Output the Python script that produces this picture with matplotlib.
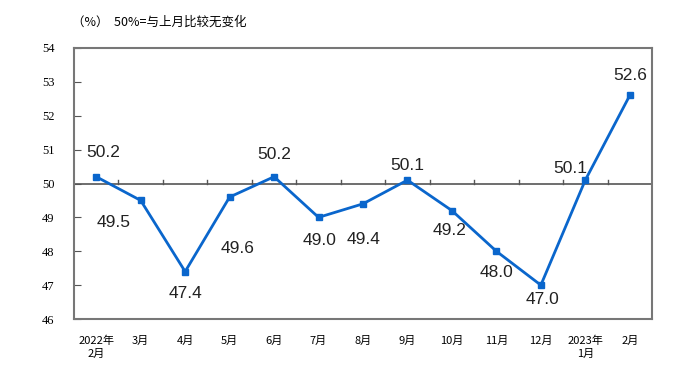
import matplotlib.pyplot as plt

plt.rcParams['font.family'] = ['Noto Sans CJK SC', 'DejaVu Sans']

# PMI values, Feb 2022 - Feb 2023
months = ['2022年\n2月', '3月', '4月', '5月', '6月', '7月', '8月', '9月',
          '10月', '11月', '12月', '2023年\n1月', '2月']
values = [50.2, 49.5, 47.4, 49.6, 50.2, 49.0, 49.4, 50.1, 49.2, 48.0, 47.0, 50.1, 52.6]
# label centre offsets in pixels (dx, dy), dy positive = up
offsets = [(7, 24), (-27, -22), (0, -22), (8, -51), (0, 22), (1, -23),
           (1, -36), (0, 15), (-2, -20), (0, -21), (2, -14), (-15, 12), (0, 20)]

blue = '#0a66cc'
x = list(range(len(values)))

fig = plt.figure(figsize=(6.99, 3.79), dpi=100)
ax = fig.add_axes([74 / 699, 1 - 319 / 379, 578 / 699, 271 / 379])

ax.axhline(50, color='#555555', lw=1.2, zorder=1)
for b in range(1, len(values)):
    ax.plot([b - 0.5, b - 0.5], [50, 50.1], color='#555555', lw=1, zorder=1)

ax.plot(x, values, color=blue, lw=2, marker='s', markersize=5, zorder=3)

for xi, v, (dx, dy) in zip(x, values, offsets):
    ax.annotate(f'{v:.1f}', (xi, v), xytext=(dx * 0.72, dy * 0.72), textcoords='offset points',
                ha='center', va='center', fontsize=12.5, color='#222222',
                family=['Liberation Sans'])

ax.set_xlim(-0.5, len(values) - 0.5)
ax.set_ylim(46, 54)
ax.set_yticks(range(46, 55))
ax.set_yticklabels([str(t) for t in range(46, 55)], fontsize=9, family=['Liberation Serif'])
ax.tick_params(axis='y', direction='in', length=5, color='#555555', pad=14)
ax.set_xticks(x)
ax.set_xticklabels(months, fontsize=8)
ax.tick_params(axis='x', length=0, pad=12)
for lbl in ax.get_xticklabels():
    lbl.set_linespacing(1.3)
    lbl.set_verticalalignment('top')

for s in ax.spines.values():
    s.set_color('#777777')
    s.set_linewidth(1.5)

fig.text(72 / 699, 1 - 22 / 379, '（%）  50%=与上月比较无变化', fontsize=9, va='center', ha='left')

plt.savefig('out.png', dpi=100)
